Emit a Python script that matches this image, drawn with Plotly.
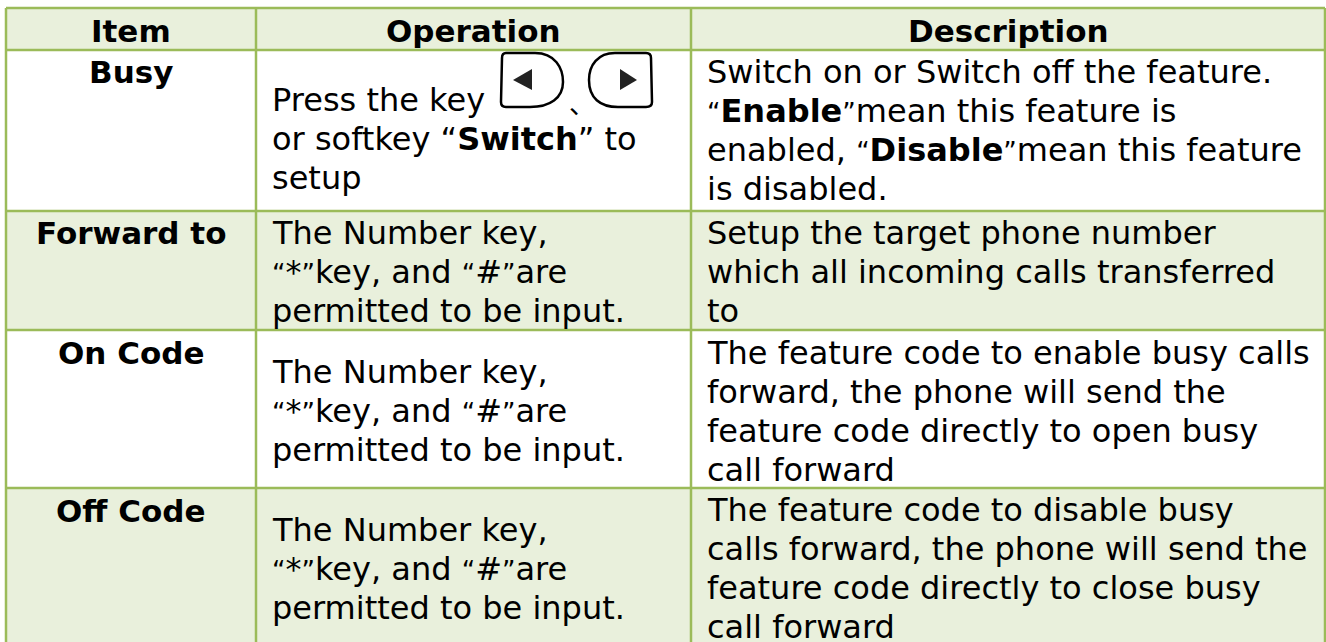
import plotly.graph_objects as go

W, H = 1326, 642
FONT = "DejaVu Sans"
SIZE = 32
HEAD_SIZE = 31
QL = '<span style="font-size:26px">“</span>'
QR = '<span style="font-size:26px">”</span>'

headers = ["Item", "Operation", "Description"]
items = ["Busy", "Forward to", "On Code", "Off Code"]
number_key = ["The Number key,", f"{QL}*{QR}key, and {QL}#{QR}are", "permitted to be input."]
operation_lines = [
    ["Press the key", "or softkey “<b>Switch</b>” to", "setup"],
    number_key,
    number_key,
    number_key,
]
description_lines = [
    ["Switch on or Switch off the feature.", f"{QL}<b>Enable</b>{QR}mean this feature is",
     f"enabled, {QL}<b>Disable</b>{QR}mean this feature", "is disabled."],
    ["Setup the target phone number", "which all incoming calls transferred", "to"],
    ["The feature code to enable busy calls", "forward, the phone will send the",
     "feature code directly to open busy", "call forward"],
    ["The feature code to disable busy", "calls forward, the phone will send the",
     "feature code directly to close busy", "call forward"],
]

col_x = [6, 256, 691, 1325]
row_y = [8, 50, 211, 330, 488, 650]
row_fill = ["#E9F0DC", "#FFFFFF", "#E9F0DC", "#FFFFFF", "#E9F0DC"]
LINE = "#9BBB59"
LH = 39.0
op_first = [100, 233, 372, 530]
de_first = [72, 233, 353, 510]
item_y = [31, 72, 233, 353, 511]
op_x, de_x = 270, 705

shapes, ann = [], []
for i, f in enumerate(row_fill):
    shapes.append(dict(type="rect", x0=col_x[0], x1=col_x[3], y0=row_y[i], y1=row_y[i+1],
                       fillcolor=f, line_width=0, layer="below"))
for x in col_x:
    shapes.append(dict(type="line", x0=x, x1=x, y0=row_y[0], y1=H, line=dict(color=LINE, width=2.5)))
for y in row_y[:-1]:
    shapes.append(dict(type="line", x0=col_x[0], x1=col_x[3], y0=y, y1=y, line=dict(color=LINE, width=2.5)))

def text(x, y, s, anchor="left", size=SIZE):
    ann.append(dict(x=x, y=y, text=s, showarrow=False, xanchor=anchor, yanchor="middle",
                    font=dict(family=FONT, size=size, color="#000000"), xref="x", yref="y"))

for j, h in enumerate(headers):
    text((col_x[j] + col_x[j+1]) / 2, item_y[0], f"<b>{h}</b>", "center", HEAD_SIZE)
for i in range(4):
    text((col_x[0] + col_x[1]) / 2, item_y[i+1], f"<b>{items[i]}</b>", "center", HEAD_SIZE)
    for k, s in enumerate(operation_lines[i]):
        text(op_x, op_first[i] + k * LH, s)
    for k, s in enumerate(description_lines[i]):
        text(de_x, de_first[i] + k * LH, s)

# key icons and separator mark
left_key = "M 506,53 L 535,53 C 555,53 563,68 563,82 C 563,98 550,107 530,107 L 506,107 Q 501,107 501,102 L 502,58 Q 502,53 506,53 Z"
right_key = "M 646,53 L 615,53 C 598,53 589,65 589,80 C 589,98 600,107 618,107 L 646,107 Q 652,107 652,102 L 651,58 Q 651,53 646,53 Z"
for p in (left_key, right_key):
    shapes.append(dict(type="path", path=p, line=dict(color="#000000", width=2.5), fillcolor="rgba(0,0,0,0)"))
shapes.append(dict(type="path", path="M 532,69 L 532,90 L 513,80 Z", fillcolor="#222222", line_width=0))
shapes.append(dict(type="path", path="M 620,69 L 620,90 L 637,80 Z", fillcolor="#222222", line_width=0))
ann.append(dict(x=582, y=102, text="、", showarrow=False,
                font=dict(family="Noto Sans CJK SC", size=26, color="#000"), xanchor="center", yanchor="middle"))

fig = go.Figure()
fig.add_trace(go.Scatter(x=[], y=[]))
fig.update_layout(
    width=W, height=H, margin=dict(l=0, r=0, t=0, b=0), paper_bgcolor="white", plot_bgcolor="white",
    showlegend=False, shapes=shapes, annotations=ann,
    xaxis=dict(range=[0, W], visible=False, fixedrange=True),
    yaxis=dict(range=[H, 0], visible=False, fixedrange=True),
)
fig.write_html("out.html", config=dict(displayModeBar=False),
               post_script="document.body.style.margin='0';document.documentElement.style.overflow='hidden';")
